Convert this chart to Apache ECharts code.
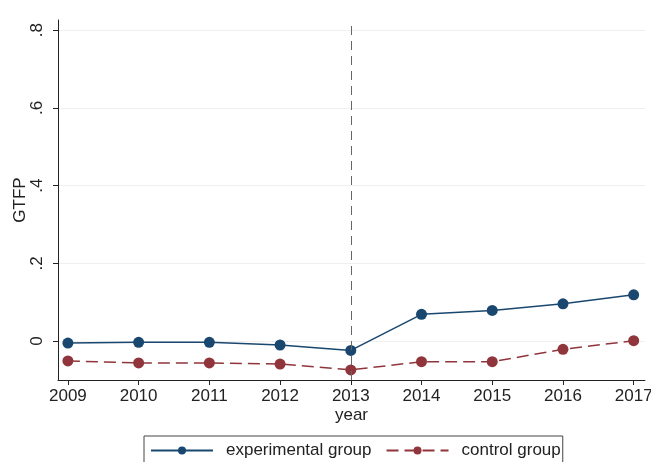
<!DOCTYPE html>
<html>
<head>
<meta charset="utf-8">
<script src="https://cdn.jsdelivr.net/npm/echarts@6/dist/echarts.min.js"></script>
<style>
html,body{margin:0;padding:0;background:#fff;}
#c{width:651px;height:462px;}
</style>
</head>
<body>
<div id="c"></div>
<script>
const years = [2009, 2010, 2011, 2012, 2013, 2014, 2015, 2016, 2017];
const experimental = [-0.005, -0.003, -0.003, -0.010, -0.024, 0.069, 0.079, 0.096, 0.119];
const control = [-0.051, -0.056, -0.056, -0.059, -0.074, -0.053, -0.053, -0.021, 0.001];
const yTicks = [0, 0.2, 0.4, 0.6, 0.8];
const yTickLabels = ['0', '.2', '.4', '.6', '.8'];
const treatYear = 2013;

const font = 'Liberation Sans, Arial, sans-serif';
const chart = echarts.init(document.getElementById('c'));
chart.setOption({
  animation: false,
  backgroundColor: '#fff',
  textStyle: { fontFamily: font },
  grid: { left: 58, right: 6, top: 20, bottom: 82, containLabel: false, outerBoundsMode: 'none' },
  xAxis: {
    type: 'value',
    min: 2008.86, max: 2017.16,
    name: 'year', nameLocation: 'middle', nameGap: 27, nameMoveOverlap: false,
    nameTextStyle: { fontSize: 17, color: '#222', fontFamily: font },
    axisLine: { show: true, onZero: false, lineStyle: { color: '#222', width: 1 } },
    axisTick: { show: true, length: 5, customValues: years, lineStyle: { color: '#222' } },
    axisLabel: { customValues: years, margin: 8, fontSize: 17, color: '#222', fontFamily: font,
      hideOverlap: false, showMinLabel: true, showMaxLabel: true,
      formatter: v => String(Math.round(v)) },
    splitLine: { show: false }
  },
  yAxis: {
    type: 'value',
    min: -0.1, max: 0.826,
    name: 'GTFP', nameLocation: 'middle', nameGap: 29, nameRotate: 90, nameMoveOverlap: false,
    nameTextStyle: { fontSize: 17, color: '#222', fontFamily: font },
    axisLine: { show: true, onZero: false, lineStyle: { color: '#222', width: 1 } },
    axisTick: { show: true, length: 5, customValues: yTicks, lineStyle: { color: '#222' } },
    axisLabel: { customValues: yTicks, rotate: 90, margin: 12, fontSize: 17, color: '#222', fontFamily: font,
      formatter: v => yTickLabels[yTicks.findIndex(t => Math.abs(t - v) < 1e-9)] },
    splitLine: { show: true, lineStyle: { color: '#efefef', width: 1 } }
  },
  legend: {
    left: 144, top: 436,
    padding: [6, 2, 12, 6],
    itemGap: 14,
    itemWidth: 62, itemHeight: 10,
    borderColor: '#444', borderWidth: 1,
    textStyle: { fontSize: 17, color: '#222', fontFamily: font, padding: [0, 0, 0, 8] },
    data: ['experimental group', 'control group']
  },
  series: [
    {
      name: 'experimental group', type: 'line',
      data: years.map((y, i) => [y, experimental[i]]),
      symbol: 'circle', symbolSize: 11,
      itemStyle: { color: '#1a476f' },
      lineStyle: { color: '#1a476f', width: 1.5 },
      markLine: {
        silent: true, symbol: ['none', 'none'], label: { show: false },
        lineStyle: { color: '#666', width: 1, type: [9, 6] },
        data: [{ xAxis: treatYear }]
      },
      z: 3
    },
    {
      name: 'control group', type: 'line',
      data: years.map((y, i) => [y, control[i]]),
      symbol: 'circle', symbolSize: 11,
      itemStyle: { color: '#90353b' },
      lineStyle: { color: '#90353b', width: 1.5, type: [12, 6] },
      z: 3
    }
  ]
});
</script>
</body>
</html>
